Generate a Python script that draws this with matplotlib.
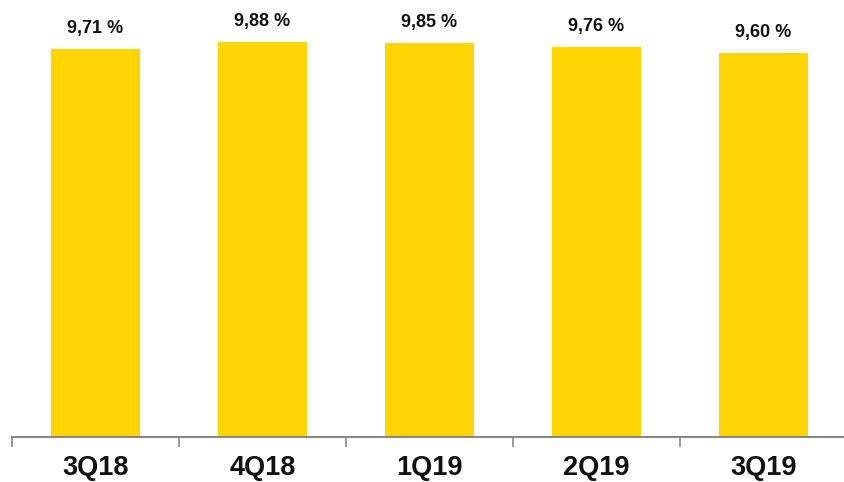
import matplotlib
matplotlib.use("Agg")
import numpy as np
from matplotlib import pyplot as plt

quarters = ["3Q18", "4Q18", "1Q19", "2Q19", "3Q19"]
ratios = [9.71, 9.88, 9.85, 9.76, 9.60]
labels = ["9,71 %", "9,88 %", "9,85 %", "9,76 %", "9,60 %"]

fig = plt.figure(figsize=(8.45, 4.82), dpi=100)
ax = fig.add_axes([12 / 845, 1 - 437 / 482, 835 / 845, 437 / 482])

x = np.arange(len(quarters))
bars = ax.bar(x, ratios, width=0.533, color="#FFD500")

for b, txt in zip(bars, labels):
    ax.annotate(txt, (b.get_x() + b.get_width() / 2, b.get_height()),
                xytext=(0, 11.5), textcoords="offset points",
                ha="center", va="baseline", fontsize=13, fontweight="bold",
                family=["Liberation Sans", "DejaVu Sans"], color="#111111")

ax.set_xlim(-0.5, 4.5)
ax.set_ylim(0, 10.93)

# category separators as ticks
ax.set_xticks(np.arange(-0.5, 5, 1))
ax.set_xticklabels([])
ax.set_xticks(x, minor=True)
ax.set_xticklabels(quarters, minor=True, fontsize=19.5, fontweight="bold",
                   family=["Liberation Sans Narrow", "Liberation Sans", "DejaVu Sans"],
                   color="#111111")
ax.tick_params(axis="x", which="major", length=7, width=1.2, color="#888888", direction="out")
ax.tick_params(axis="x", which="minor", length=0, pad=13)

ax.set_yticks([])
for s in ["top", "right", "left"]:
    ax.spines[s].set_visible(False)
ax.spines["bottom"].set_color("#888888")
ax.spines["bottom"].set_linewidth(1.5)

fig.savefig("out.png", dpi=100)
